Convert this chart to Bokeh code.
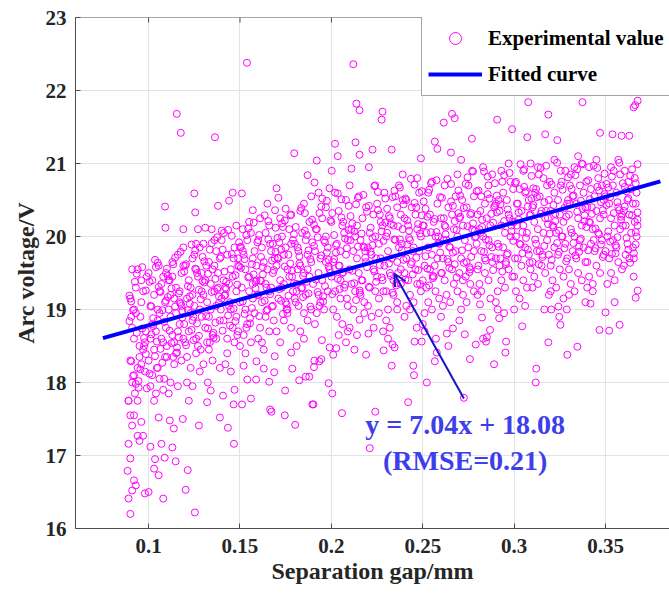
from bokeh.plotting import figure
from bokeh.models import (FixedTicker, Legend, LegendItem, Label, Span,
                          Arrow, OpenHead, Range1d, ColumnDataSource)
from bokeh.embed import file_html
from bokeh.resources import INLINE

# ---------------- data ----------------
# scattered / outlying points, strip by strip
gap_mm = [
    0.089,0.090,0.091,0.0885,0.092, 0.090,0.093,0.089,0.094,0.091, 0.095,0.090,0.097,0.092,0.089, 0.096,0.098,0.091,0.093,0.099, 0.090,0.094,0.097,0.092,0.095, 0.0905,0.0985,0.096,0.093,0.091,
    0.089,0.092,0.094,0.096,0.098, 0.091,0.093,0.095,0.097,0.099, 0.090,0.094,0.096,0.098,0.092,
    0.100,0.101,0.103,0.1035,0.1055, 0.108,0.107,0.1088,0.103,0.1055, 0.105,0.109,0.1092,0.101,0.102, 0.104,0.106,0.108,0.100,0.103, 0.105,0.107,0.109,0.102,0.104, 0.106,0.108,0.101,0.103,0.105, 0.107,0.109,0.100,0.102,0.104, 0.106,0.108,0.1095,0.101,0.105,
    0.113,0.1148,0.1138,0.1116,0.1187, 0.1154,0.1176,0.119,0.110,0.111, 0.112,0.114,0.116,0.118,0.110, 0.113,0.115,0.117,0.119,0.111, 0.112,0.114,0.116,0.118,0.115, 0.113,0.117,0.119,0.111,0.116, 0.112,0.114,0.118,0.110,0.115, 0.117,0.113,0.119,
    0.1203,0.1214,0.1253,0.1275,0.122, 0.125,0.1255,0.127,0.121,0.123, 0.124,0.126,0.128,0.120,0.122, 0.124,0.126,0.128,0.129,0.121, 0.123,0.125,0.127,0.129,0.120, 0.122,0.124,0.126,0.128,0.121, 0.123,0.125,0.127,0.129,0.124, 0.126,
    0.132,0.134,0.1324,0.139,0.1363, 0.131,0.1345,0.138,0.130,0.133, 0.135,0.137,0.139,0.131,0.133, 0.135,0.137,0.139,0.130,0.132, 0.134,0.136,0.138,0.131,0.133, 0.135,0.137,0.139,0.130,0.136, 0.132,0.138,0.134,0.136,
    0.1407,0.1434,0.1467,0.1465,0.147, 0.144,0.146,0.140,0.1412,0.142, 0.143,0.145,0.147,0.149,0.141, 0.143,0.145,0.148,0.140,0.142, 0.144,0.146,0.148,0.149,0.141, 0.143,0.145,0.147,0.149,0.140, 0.142,0.144,0.146,0.148,
    0.1511,0.156,0.154,0.1588,0.152, 0.159,0.1538,0.151,0.1515,0.157, 0.150,0.152,0.154,0.156,0.158, 0.150,0.153,0.155,0.157,0.159, 0.151,0.153,0.155,0.157,0.159, 0.150,0.152,0.154,0.156,0.158, 0.153,0.155,0.157,
    0.163,0.166,0.1665,0.1672,0.1687, 0.169,0.165,0.1692,0.160,0.161, 0.162,0.164,0.166,0.168,0.160, 0.162,0.164,0.166,0.168,0.161, 0.163,0.165,0.167,0.169,0.160, 0.162,0.164,0.166,0.168,0.161, 0.163,0.167,0.165,
    0.1747,0.1745,0.178,0.1786,0.170, 0.171,0.175,0.173,0.1797,0.170, 0.172,0.174,0.176,0.178,0.171, 0.173,0.175,0.177,0.179,0.170, 0.172,0.174,0.176,0.178,0.171, 0.173,0.175,0.177,0.179,0.172, 0.176,0.174,0.178,
    0.1802,0.1824,0.186,0.1879,0.1896, 0.187,0.185,0.181,0.183,0.185, 0.187,0.189,0.180,0.182,0.184, 0.186,0.188,0.181,0.183,0.185, 0.187,0.189,0.180,0.182,0.184, 0.186,0.188,0.183,0.185,0.189, 0.181,0.187,
    0.1902,0.1907,0.1945,0.1934,0.1905, 0.1948,0.199,0.1985,0.1908,0.192, 0.193,0.195,0.199,0.191,0.192, 0.194,0.196,0.198,0.190,0.193, 0.195,0.197,0.199,0.191,0.194, 0.196,0.198,0.192,0.195,0.197, 0.193,0.197,
    0.2005,0.201,0.2027,0.2058,0.2002, 0.202,0.2035,0.204,0.206,0.208, 0.201,0.203,0.205,0.207,0.209, 0.200,0.202,0.204,0.206,0.208, 0.201,0.203,0.205,0.207,0.209, 0.200,0.204,0.206,0.208,0.202, 0.205,0.209,
    0.212,0.2137,0.2154,0.2126,0.2154, 0.219,0.2132,0.2154,0.211,0.210, 0.212,0.214,0.216,0.218,0.211, 0.213,0.215,0.217,0.219,0.210, 0.212,0.214,0.216,0.218,0.211, 0.213,0.217,0.219,0.215,0.210, 0.218,0.214,
    0.221,0.224,0.2286,0.2283,0.2231, 0.2203,0.228,0.2225,0.2205,0.2275, 0.220,0.222,0.224,0.226,0.228, 0.221,0.223,0.225,0.227,0.229, 0.220,0.222,0.224,0.226,0.228, 0.221,0.223,0.225,0.227,0.229, 0.226,0.224,
    0.233,0.2335,0.2346,0.233,0.230, 0.231,0.232,0.234,0.236,0.238, 0.230,0.232,0.234,0.236,0.238, 0.231,0.233,0.235,0.237,0.239, 0.230,0.232,0.234,0.236,0.238, 0.235,0.237,0.239,0.231,0.236, 0.239,
    0.242,0.2452,0.2448,0.2455,0.2494, 0.2467,0.249,0.240,0.241,0.243, 0.245,0.247,0.249,0.240,0.242, 0.244,0.246,0.248,0.241,0.243, 0.245,0.247,0.249,0.240,0.242, 0.244,0.246,0.248,0.241,0.247, 0.243,
    0.2522,0.2566,0.2577,0.2572,0.2566, 0.258,0.250,0.251,0.253,0.255, 0.257,0.259,0.250,0.252,0.254, 0.256,0.258,0.251,0.253,0.255, 0.257,0.259,0.250,0.252,0.254, 0.256,0.258,0.253,0.255,0.251,
    0.2632,0.2665,0.2615,0.2660,0.2675, 0.2654,0.260,0.261,0.263,0.265, 0.267,0.269,0.260,0.262,0.264, 0.266,0.268,0.261,0.263,0.265, 0.267,0.269,0.260,0.262,0.264, 0.266,0.268,0.262,0.269,0.264,
    0.2725,0.273,0.2758,0.279,0.2769, 0.270,0.271,0.272,0.274,0.276, 0.278,0.270,0.272,0.274,0.276, 0.278,0.271,0.273,0.275,0.277, 0.279,0.270,0.272,0.274,0.276, 0.278,0.275,0.277,0.271,
    0.2813,0.2824,0.283,0.2846,0.2851, 0.2868,0.289,0.280,0.281,0.282, 0.284,0.286,0.288,0.280,0.282, 0.284,0.286,0.288,0.281,0.283, 0.285,0.287,0.289,0.280,0.282, 0.284,0.286,0.288,0.283,0.287,
    0.2918,0.2945,0.2952,0.2956,0.2907, 0.2989,0.290,0.291,0.293,0.295, 0.297,0.299,0.290,0.292,0.294, 0.296,0.298,0.291,0.293,0.295, 0.297,0.299,0.290,0.292,0.294, 0.296,0.298,0.293,0.297,0.291,
    0.3044,0.3077,0.3072,0.300,0.301, 0.303,0.305,0.307,0.309,0.300, 0.302,0.304,0.306,0.308,0.301, 0.303,0.305,0.307,0.309,0.300, 0.302,0.304,0.306,0.308,0.301, 0.303,0.305,0.309,0.306,
    0.3121,0.3118,0.3187,0.3165,0.317, 0.3187,0.310,0.311,0.313,0.315, 0.317,0.319,0.310,0.312,0.314, 0.316,0.318,0.311,0.313,0.315, 0.317,0.319,0.310,0.312,0.314, 0.316,0.318,0.313,0.319,
    0.3203,0.3242,0.3253,0.3247,0.3291, 0.3288,0.3236,0.320,0.321,0.323, 0.325,0.327,0.329,0.320,0.322, 0.324,0.326,0.328,0.321,0.323, 0.325,0.327,0.329,0.320,0.322, 0.324,0.326,0.328,0.322,0.327,
    0.3346,0.3374,0.330,0.331,0.333, 0.335,0.337,0.339,0.330,0.332, 0.334,0.336,0.338,0.331,0.333, 0.335,0.337,0.339,0.330,0.332, 0.334,0.336,0.338,0.331,0.333, 0.335,0.339,0.337,
    0.3418,0.3467,0.347,0.340,0.341, 0.343,0.345,0.347,0.349,0.340, 0.342,0.344,0.346,0.348,0.341, 0.343,0.345,0.347,0.349,0.340, 0.342,0.344,0.346,0.348,0.341, 0.345,0.349,0.343,
    0.352,0.3577,0.350,0.355,0.3538, 0.3588,0.351,0.353,0.355,0.357, 0.359,0.350,0.352,0.354,0.356, 0.358,0.351,0.353,0.355,0.357, 0.359,0.350,0.352,0.354,0.356, 0.358,0.353,0.357,
    0.3665,0.3676,0.3654,0.3654,0.3676, 0.363,0.3662,0.360,0.361,0.362, 0.363,0.364,0.365,0.366,0.367, 0.360,0.361,0.362,0.363,0.364, 0.365,0.366,0.367,0.3605,0.3625,
]

arc_voltage_V = [
    16.41,16.20,16.52,16.79,16.66, 16.96,16.59,17.16,17.27,17.41, 17.20,17.55,17.27,17.55,17.75, 17.46,16.48,18.00,17.98,17.92, 18.30,18.20,18.45,18.60,18.35, 18.90,18.70,19.10,19.30,19.55,
    17.75,18.10,17.75,18.25,18.55, 18.75,18.95,18.50,19.25,19.45, 19.15,19.55,19.40,18.15,19.00,
    16.50,17.12,16.82,16.95,16.73, 16.41,17.16,16.97,17.75,17.52, 19.64,20.41,20.12,17.95,18.10, 17.85,18.05,17.90,18.30,18.45, 18.20,18.60,18.35,18.80,18.70, 18.95,18.55,19.05,19.20,18.85, 19.35,19.10,19.50,19.40,19.58, 19.25,19.45,18.75,18.60,19.00,
    17.11,16.92,17.37,17.48,17.50, 21.68,21.42,20.10,19.56,17.85, 18.00,18.25,17.95,18.30,18.50, 18.65,18.40,18.80,18.60,19.00, 18.90,19.15,18.70,19.05,19.30, 19.45,19.25,19.60,19.40,19.75, 19.20,18.55,19.50,18.35,18.95, 19.10,19.65,19.85,
    16.53,16.80,16.22,17.41,17.75, 20.59,20.33,20.10,18.00,18.20, 17.95,18.40,18.15,18.55,18.70, 18.85,18.60,19.00,18.90,19.15, 19.30,19.05,19.45,19.25,19.60, 19.40,19.70,19.55,19.85,18.35, 18.95,19.75,18.50,19.50,19.20, 19.90,
    17.73,17.89,18.00,17.52,21.36, 20.12,20.10,20.42,18.25,18.45, 18.30,18.60,18.20,18.75,18.90, 18.65,19.05,18.85,19.20,19.10, 19.35,19.25,19.50,19.40,19.65, 19.55,19.80,19.70,19.90,19.95, 18.55,19.30,19.00,19.60,
    17.82,17.38,17.16,17.70,17.90, 20.49,20.60,20.08,20.05,18.25, 18.40,18.15,18.55,18.70,18.85, 18.60,19.00,18.90,19.15,19.30, 19.05,19.45,19.25,19.60,19.40, 19.75,19.55,19.85,19.70,19.95, 19.20,19.35,18.75,20.15,
    17.70,17.78,18.04,18.04,18.23, 18.29,22.38,20.59,20.10,20.36, 18.50,18.65,18.80,18.55,18.95, 19.10,19.00,19.25,19.15,19.40, 19.30,19.55,19.45,19.70,19.60, 19.85,19.75,19.95,20.05,19.80, 18.40,20.20,19.35,
    18.19,18.01,17.63,17.60,18.14, 18.36,20.45,20.36,18.60,18.75, 18.55,18.90,18.70,19.05,19.20, 19.10,19.35,19.25,19.50,19.40, 19.65,19.55,19.80,19.70,19.95, 19.85,20.05,20.15,19.90,20.25, 18.45,19.30,19.00,
    17.89,17.55,18.41,18.19,20.66, 20.53,20.38,20.18,21.14,18.70, 18.55,18.85,19.00,18.75,19.15, 19.30,19.10,19.45,19.25,19.60, 19.40,19.75,19.55,19.90,19.70, 20.00,19.85,20.10,19.95,20.25, 18.95,19.35,20.30,
    17.42,18.03,18.08,18.08,17.70, 20.84,20.45,18.50,18.70,18.60, 18.85,19.00,19.15,19.05,19.30, 19.20,19.45,19.35,19.60,19.50, 19.75,19.65,19.90,19.80,20.05, 19.95,20.20,20.35,18.95,20.55, 19.25,19.55,
    17.70,18.30,18.32,18.29,18.21, 18.58,18.48,17.99,20.74,21.04, 20.60,20.52,20.66,18.80,18.95, 19.10,19.00,19.25,19.35,19.50, 19.40,19.65,19.55,19.80,19.70, 19.95,19.85,20.10,20.25,20.00, 19.20,20.40,
    17.85,18.38,18.47,17.58,20.90, 21.27,21.10,18.65,18.80,18.55, 19.00,18.90,19.15,19.30,19.05, 19.45,19.25,19.60,19.50,19.75, 19.65,19.90,19.80,20.05,19.95, 20.20,20.35,20.15,20.50,20.60, 19.40,18.70,
    22.36,21.82,21.73,18.45,18.86, 18.38,21.29,21.12,20.93,18.75, 19.00,18.65,19.20,19.10,19.35, 19.25,19.50,19.40,19.65,19.55, 19.80,19.70,19.95,19.85,20.10, 20.00,20.25,20.40,20.55,20.70, 18.95,20.15,
    17.10,17.60,18.44,18.70,18.75, 18.67,21.71,21.19,20.95,21.60, 19.05,18.90,19.25,19.15,19.40, 19.30,19.55,19.45,19.70,19.60, 19.85,19.75,20.00,19.90,20.15, 20.05,20.30,20.45,20.20,20.60, 18.95,20.70,
    18.23,18.52,18.48,21.19,18.85, 19.00,18.75,19.20,19.10,19.35, 19.25,19.50,19.40,19.65,19.55, 19.80,19.70,19.95,19.85,20.10, 20.00,20.25,20.15,20.40,20.30, 20.55,20.70,20.85,18.60,19.00, 20.50,
    17.73,18.10,18.23,18.56,18.56, 18.75,21.07,18.90,19.05,19.20, 19.10,19.35,19.25,19.50,19.40, 19.65,19.55,19.80,19.70,19.95, 19.85,20.10,20.00,20.25,20.15, 20.40,20.30,20.60,20.50,20.80, 19.00,
    18.00,18.29,18.41,18.60,21.30, 21.20,18.80,18.95,19.10,19.00, 19.25,19.15,19.40,19.30,19.55, 19.45,19.70,19.60,19.85,19.75, 20.00,19.90,20.15,20.05,20.30, 20.20,20.45,20.60,20.75,18.70,
    18.67,18.74,21.56,21.68,21.62, 21.15,18.90,19.05,19.20,19.10, 19.35,19.25,19.50,19.40,19.65, 19.55,19.80,19.70,19.95,19.85, 20.10,20.00,20.25,20.15,20.40, 20.30,20.55,20.70,20.85,18.50,
    17.79,18.66,18.32,18.52,21.34, 18.85,19.00,19.20,19.10,19.35, 19.25,19.50,19.40,19.65,19.55, 19.80,19.70,19.95,19.85,20.10, 20.00,20.25,20.15,20.40,20.30, 20.55,20.70,20.90,21.05,
    19.07,18.89,18.60,18.56,18.62, 18.72,18.25,19.20,19.35,19.25, 19.50,19.40,19.65,19.55,19.80, 19.70,19.95,19.85,20.10,20.00, 20.25,20.15,20.40,20.30,20.55, 20.45,20.70,20.85,20.95,19.15,
    18.88,18.95,18.41,18.56,21.60, 21.47,19.10,19.25,19.40,19.30, 19.55,19.45,19.70,19.60,19.85, 19.75,20.00,19.90,20.15,20.05, 20.30,20.20,20.45,20.35,20.60, 20.50,20.75,20.90,21.00,19.00,
    18.77,21.84,21.36,19.00,19.25, 19.15,19.40,19.30,19.55,19.45, 19.70,19.60,19.85,19.75,20.00, 19.90,20.15,20.05,20.30,20.20, 20.45,20.35,20.60,20.50,20.75, 20.65,20.90,21.00,19.05,
    18.19,18.00,18.55,19.00,21.40, 21.67,19.30,19.45,19.35,19.60, 19.50,19.75,19.65,19.90,19.80, 20.05,19.95,20.20,20.10,20.35, 20.25,20.50,20.40,20.65,20.55, 20.80,20.70,20.95,19.20,
    19.00,19.04,18.79,18.90,18.38, 19.00,21.32,19.25,19.40,19.30, 19.55,19.45,19.70,19.60,19.85, 19.75,20.00,19.90,20.15,20.05, 20.30,20.20,20.45,20.35,20.60, 20.50,20.75,20.90,21.05,19.15,
    18.49,21.84,19.20,19.35,19.25, 19.50,19.40,19.65,19.55,19.80, 19.70,19.95,19.85,20.10,20.00, 20.25,20.15,20.40,20.30,20.55, 20.45,20.70,20.60,20.85,20.95, 21.10,19.10,21.00,
    19.08,18.72,21.42,19.30,19.45, 19.35,19.60,19.50,19.75,19.65, 19.90,19.80,20.05,19.95,20.20, 20.10,20.35,20.25,20.50,20.40, 20.65,20.55,20.80,20.70,20.95, 21.05,20.30,19.25,
    18.71,18.79,18.96,19.10,21.40, 21.38,19.35,19.50,19.40,19.65, 19.55,19.80,19.70,19.95,19.85, 20.10,20.00,20.25,20.15,20.40, 20.30,20.55,20.45,20.70,20.60, 20.85,20.95,21.05,
    19.16,19.26,19.45,21.77,21.86, 21.38,21.80,19.60,19.75,19.90, 19.70,20.05,19.85,20.20,20.00, 20.35,20.15,20.50,20.30,20.65, 20.45,20.80,20.60,20.90,20.75,
]

# dense core of the cloud, strip by strip (20 points per strip)
gap_mm_core = [
    0.0925,0.0965,0.0905,0.0985,0.0945, 0.0915,0.0975,0.0935,0.0955,0.0895, 0.0945,0.0905,0.0975,0.0925,0.0985, 0.0955,0.0915,0.0965,0.0935,0.0895,
    0.1085,0.1025,0.1065,0.1005,0.1045, 0.1095,0.1015,0.1055,0.1035,0.1075, 0.1005,0.1065,0.1025,0.1095,0.1045, 0.1015,0.1075,0.1035,0.1085,0.1055,
    0.1135,0.1175,0.1115,0.1195,0.1155, 0.1125,0.1185,0.1145,0.1165,0.1105, 0.1155,0.1115,0.1185,0.1135,0.1195, 0.1165,0.1125,0.1175,0.1145,0.1105,
    0.1285,0.1225,0.1265,0.1205,0.1245, 0.1295,0.1215,0.1255,0.1235,0.1275, 0.1205,0.1265,0.1225,0.1295,0.1245, 0.1215,0.1275,0.1235,0.1285,0.1255,
    0.1335,0.1375,0.1315,0.1395,0.1355, 0.1325,0.1385,0.1345,0.1365,0.1305, 0.1355,0.1315,0.1385,0.1335,0.1395, 0.1365,0.1325,0.1375,0.1345,0.1305,
    0.1485,0.1425,0.1465,0.1405,0.1445, 0.1495,0.1415,0.1455,0.1435,0.1475, 0.1405,0.1465,0.1425,0.1495,0.1445, 0.1415,0.1475,0.1435,0.1485,0.1455,
    0.1535,0.1575,0.1515,0.1595,0.1555, 0.1525,0.1585,0.1545,0.1565,0.1505, 0.1555,0.1515,0.1585,0.1535,0.1595, 0.1565,0.1525,0.1575,0.1545,0.1505,
    0.1685,0.1625,0.1665,0.1605,0.1645, 0.1695,0.1615,0.1655,0.1635,0.1675, 0.1605,0.1665,0.1625,0.1695,0.1645, 0.1615,0.1675,0.1635,0.1685,0.1655,
    0.1735,0.1775,0.1715,0.1795,0.1755, 0.1725,0.1785,0.1745,0.1765,0.1705, 0.1755,0.1715,0.1785,0.1735,0.1795, 0.1765,0.1725,0.1775,0.1745,0.1705,
    0.1885,0.1825,0.1865,0.1805,0.1845, 0.1895,0.1815,0.1855,0.1835,0.1875, 0.1805,0.1865,0.1825,0.1895,0.1845, 0.1815,0.1875,0.1835,0.1885,0.1855,
    0.1935,0.1975,0.1915,0.1995,0.1955, 0.1925,0.1985,0.1945,0.1965,0.1905, 0.1955,0.1915,0.1985,0.1935,0.1995, 0.1965,0.1925,0.1975,0.1945,0.1905,
    0.2085,0.2025,0.2065,0.2005,0.2045, 0.2095,0.2015,0.2055,0.2035,0.2075, 0.2005,0.2065,0.2025,0.2095,0.2045, 0.2015,0.2075,0.2035,0.2085,0.2055,
    0.2135,0.2175,0.2115,0.2195,0.2155, 0.2125,0.2185,0.2145,0.2165,0.2105, 0.2155,0.2115,0.2185,0.2135,0.2195, 0.2165,0.2125,0.2175,0.2145,0.2105,
    0.2285,0.2225,0.2265,0.2205,0.2245, 0.2295,0.2215,0.2255,0.2235,0.2275, 0.2205,0.2265,0.2225,0.2295,0.2245, 0.2215,0.2275,0.2235,0.2285,0.2255,
    0.2335,0.2375,0.2315,0.2395,0.2355, 0.2325,0.2385,0.2345,0.2365,0.2305, 0.2355,0.2315,0.2385,0.2335,0.2395, 0.2365,0.2325,0.2375,0.2345,0.2305,
    0.2485,0.2425,0.2465,0.2405,0.2445, 0.2495,0.2415,0.2455,0.2435,0.2475, 0.2405,0.2465,0.2425,0.2495,0.2445, 0.2415,0.2475,0.2435,0.2485,0.2455,
    0.2535,0.2575,0.2515,0.2595,0.2555, 0.2525,0.2585,0.2545,0.2565,0.2505, 0.2555,0.2515,0.2585,0.2535,0.2595, 0.2565,0.2525,0.2575,0.2545,0.2505,
    0.2685,0.2625,0.2665,0.2605,0.2645, 0.2695,0.2615,0.2655,0.2635,0.2675, 0.2605,0.2665,0.2625,0.2695,0.2645, 0.2615,0.2675,0.2635,0.2685,0.2655,
    0.2735,0.2775,0.2715,0.2795,0.2755, 0.2725,0.2785,0.2745,0.2765,0.2705, 0.2755,0.2715,0.2785,0.2735,0.2795, 0.2765,0.2725,0.2775,0.2745,0.2705,
    0.2885,0.2825,0.2865,0.2805,0.2845, 0.2895,0.2815,0.2855,0.2835,0.2875, 0.2805,0.2865,0.2825,0.2895,0.2845, 0.2815,0.2875,0.2835,0.2885,0.2855,
    0.2935,0.2975,0.2915,0.2995,0.2955, 0.2925,0.2985,0.2945,0.2965,0.2905, 0.2955,0.2915,0.2985,0.2935,0.2995, 0.2965,0.2925,0.2975,0.2945,0.2905,
    0.3085,0.3025,0.3065,0.3005,0.3045, 0.3095,0.3015,0.3055,0.3035,0.3075, 0.3005,0.3065,0.3025,0.3095,0.3045, 0.3015,0.3075,0.3035,0.3085,0.3055,
    0.3135,0.3175,0.3115,0.3195,0.3155, 0.3125,0.3185,0.3145,0.3165,0.3105, 0.3155,0.3115,0.3185,0.3135,0.3195, 0.3165,0.3125,0.3175,0.3145,0.3105,
    0.3285,0.3225,0.3265,0.3205,0.3245, 0.3295,0.3215,0.3255,0.3235,0.3275, 0.3205,0.3265,0.3225,0.3295,0.3245, 0.3215,0.3275,0.3235,0.3285,0.3255,
    0.3335,0.3375,0.3315,0.3395,0.3355, 0.3325,0.3385,0.3345,0.3365,0.3305, 0.3355,0.3315,0.3385,0.3335,0.3395, 0.3365,0.3325,0.3375,0.3345,0.3305,
    0.3485,0.3425,0.3465,0.3405,0.3445, 0.3495,0.3415,0.3455,0.3435,0.3475, 0.3405,0.3465,0.3425,0.3495,0.3445, 0.3415,0.3475,0.3435,0.3485,0.3455,
    0.3535,0.3575,0.3515,0.3595,0.3555, 0.3525,0.3585,0.3545,0.3565,0.3505, 0.3555,0.3515,0.3585,0.3535,0.3595, 0.3565,0.3525,0.3575,0.3545,0.3505,
    0.3635,0.3675,0.3615,0.3665,0.3655, 0.3625,0.3675,0.3645,0.3665,0.3605, 0.3655,0.3615,0.3675,0.3635,0.3665, 0.3665,0.3625,0.3675,0.3645,0.3605,
]

arc_voltage_V_core = [
    17.85,18.74,18.29,19.26,18.02, 18.99,18.50,19.49,18.18,18.84, 17.93,19.11,18.61,19.38,18.39, 18.90,18.09,19.58,18.68,19.19,
    18.05,18.88,18.46,19.38,18.20, 19.12,18.66,19.60,18.36,18.99, 18.12,19.24,18.77,19.50,18.56, 19.04,18.27,19.68,18.83,19.31,
    18.35,19.08,18.71,19.52,18.48, 19.29,18.89,19.71,18.62,19.17, 18.41,19.40,18.98,19.62,18.80, 19.22,18.54,19.79,19.04,19.46,
    18.45,19.18,18.81,19.62,18.58, 19.39,18.99,19.81,18.72,19.27, 18.51,19.50,19.08,19.72,18.90, 19.32,18.64,19.89,19.14,19.56,
    18.55,19.28,18.91,19.72,18.68, 19.49,19.09,19.91,18.82,19.37, 18.61,19.60,19.18,19.82,19.00, 19.42,18.74,19.99,19.24,19.66,
    18.65,19.38,19.01,19.82,18.78, 19.59,19.19,20.01,18.92,19.47, 18.71,19.70,19.28,19.92,19.10, 19.52,18.84,20.09,19.34,19.76,
    18.75,19.48,19.11,19.92,18.88, 19.69,19.29,20.11,19.02,19.57, 18.81,19.80,19.38,20.02,19.20, 19.62,18.94,20.19,19.44,19.86,
    18.85,19.58,19.21,20.02,18.98, 19.79,19.39,20.21,19.12,19.67, 18.91,19.90,19.48,20.12,19.30, 19.72,19.04,20.29,19.54,19.96,
    18.94,19.63,19.28,20.03,19.07, 19.82,19.45,20.22,19.19,19.71, 19.00,19.92,19.53,20.13,19.36, 19.75,19.12,20.29,19.59,19.98,
    19.04,19.73,19.38,20.13,19.17, 19.92,19.55,20.32,19.29,19.81, 19.10,20.02,19.63,20.23,19.46, 19.85,19.22,20.39,19.69,20.08,
    19.05,19.78,19.41,20.22,19.18, 19.99,19.59,20.41,19.32,19.87, 19.11,20.10,19.68,20.32,19.50, 19.92,19.24,20.49,19.74,20.16,
    19.15,19.88,19.51,20.32,19.28, 20.09,19.69,20.51,19.42,19.97, 19.21,20.20,19.78,20.42,19.60, 20.02,19.34,20.59,19.84,20.26,
    19.13,19.86,19.53,20.34,19.26, 20.07,19.71,20.53,19.40,19.95, 19.23,20.18,19.80,20.44,19.58, 20.04,19.36,20.57,19.86,20.28,
    19.25,19.98,19.61,20.42,19.38, 20.19,19.79,20.61,19.52,20.07, 19.31,20.30,19.88,20.52,19.70, 20.12,19.44,20.69,19.94,20.36,
    19.23,19.96,19.63,20.44,19.36, 20.17,19.81,20.63,19.50,20.05, 19.33,20.28,19.90,20.54,19.68, 20.14,19.46,20.67,19.96,20.38,
    19.35,20.08,19.71,20.52,19.48, 20.29,19.89,20.71,19.62,20.17, 19.41,20.40,19.98,20.62,19.80, 20.22,19.54,20.79,20.04,20.46,
    19.33,20.06,19.73,20.54,19.46, 20.27,19.91,20.73,19.60,20.15, 19.43,20.38,20.00,20.64,19.78, 20.24,19.56,20.77,20.06,20.48,
    19.44,20.13,19.78,20.53,19.57, 20.32,19.95,20.72,19.69,20.21, 19.50,20.42,20.03,20.63,19.86, 20.25,19.62,20.79,20.09,20.48,
    19.45,20.18,19.81,20.62,19.58, 20.39,19.99,20.81,19.72,20.27, 19.51,20.50,20.08,20.72,19.90, 20.32,19.64,20.89,20.14,20.56,
    19.54,20.23,19.88,20.63,19.67, 20.42,20.05,20.82,19.79,20.31, 19.60,20.52,20.13,20.73,19.96, 20.35,19.72,20.89,20.19,20.58,
    19.52,20.25,19.86,20.65,19.65, 20.44,20.07,20.84,19.77,20.33, 19.62,20.50,20.15,20.75,19.94, 20.37,19.70,20.87,20.21,20.56,
    19.64,20.33,19.98,20.73,19.77, 20.52,20.15,20.92,19.89,20.41, 19.70,20.62,20.23,20.83,20.06, 20.45,19.82,20.99,20.29,20.68,
    19.62,20.35,19.96,20.75,19.75, 20.54,20.17,20.94,19.87,20.43, 19.72,20.60,20.25,20.85,20.04, 20.47,19.80,20.97,20.31,20.66,
    19.66,20.31,20.00,20.71,19.79, 20.50,20.13,20.90,19.91,20.39, 19.68,20.64,20.21,20.81,20.08, 20.43,19.84,21.01,20.27,20.70,
    19.74,20.38,20.05,20.75,19.86, 20.56,20.21,20.92,19.97,20.45, 19.79,20.65,20.29,20.84,20.13, 20.49,19.91,20.99,20.34,20.70,
    19.72,20.40,20.03,20.77,19.84, 20.58,20.19,20.94,19.95,20.47, 19.81,20.63,20.31,20.86,20.11, 20.51,19.89,20.97,20.36,20.68,
    19.76,20.36,20.07,20.73,19.88, 20.54,20.23,20.90,19.99,20.43, 19.77,20.67,20.27,20.82,20.15, 20.47,19.93,21.01,20.32,20.72,
    19.64,20.33,19.98,20.73,19.77, 20.52,20.15,20.92,19.89,20.41, 19.70,20.62,20.23,20.83,20.06, 20.45,19.82,20.99,20.29,20.68,
]

fit_slope = 7.04
fit_intercept = 18.08
fit_gap = [0.075, 0.38]

x_ticks = [0.1, 0.15, 0.2, 0.25, 0.3, 0.35]
y_ticks = [16, 17, 18, 19, 20, 21, 22, 23]

n1 = min(len(gap_mm), len(arc_voltage_V))
n2 = min(len(gap_mm_core), len(arc_voltage_V_core))
all_x = gap_mm[:n1] + gap_mm_core[:n2]
all_y = arc_voltage_V[:n1] + arc_voltage_V_core[:n2]
scatter_src = ColumnDataSource(dict(x=all_x, y=all_y))
fit_src = ColumnDataSource(dict(x=fit_gap, y=[fit_slope * g + fit_intercept for g in fit_gap]))

FONT = "Liberation Serif"
AX_COLOR = "#4D4D4D"

Y0, Y1 = 16, 23
FRAME_H = 511

p = figure(width=669, height=594,
           x_range=Range1d(0.06, 0.385), y_range=Range1d(Y0, Y1),
           output_backend="svg", toolbar_location=None,
           min_border_left=75, min_border_right=0,
           min_border_top=17, min_border_bottom=66)
p.outline_line_color = None
p.background_fill_color = "white"
p.border_fill_color = "white"

p.xgrid.ticker = FixedTicker(ticks=x_ticks)
p.ygrid.ticker = FixedTicker(ticks=y_ticks)
p.grid.grid_line_color = "#E3E3E3"
p.grid.grid_line_width = 1

sc = p.scatter("x", "y", source=scatter_src, size=7, marker="circle",
               fill_color=None, line_color="#FF00FF", line_width=1)
ln = p.line("x", "y", source=fit_src, line_color="#0000FF", line_width=4)

# axes
for ax in [p.xaxis[0], p.yaxis[0]]:
    ax.axis_line_color = AX_COLOR
    ax.major_tick_line_color = AX_COLOR
    ax.major_tick_in = 5
    ax.major_tick_out = 0
    ax.minor_tick_line_color = None
    ax.major_label_text_font = FONT
    ax.major_label_text_font_style = "bold"
    ax.major_label_text_font_size = "21px"
    ax.major_label_text_color = "#262626"
    ax.axis_label_text_font = FONT
    ax.axis_label_text_font_style = "bold"
    ax.axis_label_text_font_size = "24px"
    ax.axis_label_text_color = "#262626"

p.xaxis.ticker = FixedTicker(ticks=x_ticks)
p.yaxis.ticker = FixedTicker(ticks=y_ticks)
p.xaxis.major_label_overrides = {0.1: "0.1", 0.15: "0.15", 0.2: "0.2", 0.25: "0.25", 0.3: "0.3", 0.35: "0.35"}
p.xaxis.axis_label = "Separation gap/mm"
p.yaxis.axis_label = "Arc voltage/V"
p.xaxis.major_label_standoff = 10
p.yaxis.major_label_standoff = 9
p.xaxis.axis_label_standoff = 2
p.yaxis.axis_label_standoff = 4

# top box edge with inward ticks
p.add_layout(Span(location=Y1, dimension="width", line_color=AX_COLOR, line_width=1))
tick_len = 5 * (Y1 - Y0) / FRAME_H
p.segment(x0=x_ticks, y0=[Y1] * len(x_ticks), x1=x_ticks, y1=[Y1 - tick_len] * len(x_ticks),
          line_color=AX_COLOR, line_width=1)

# annotation
arrow = Arrow(x_start=0.2725, y_start=17.78, x_end=0.2345, y_end=19.49,
              line_color="#1414C8", line_width=2,
              end=OpenHead(size=12, line_color="#1414C8", line_width=2))
p.add_layout(arrow)

lab1 = Label(x=0.2732, y=17.43, text="y = 7.04x + 18.08", text_align="center",
             text_baseline="middle", text_font=FONT, text_font_style="bold",
             text_font_size="28px", text_color="#3E3EEB")
lab2 = Label(x=0.2732, y=16.93, text="(RMSE=0.21)", text_align="center",
             text_baseline="middle", text_font=FONT, text_font_style="bold",
             text_font_size="28px", text_color="#3E3EEB")
p.add_layout(lab1)
p.add_layout(lab2)

legend = Legend(items=[LegendItem(label="Experimental value", renderers=[sc]),
                       LegendItem(label="Fitted curve", renderers=[ln])],
                location=(346, 432), orientation="vertical",
                label_text_font=FONT, label_text_font_style="bold",
                label_text_font_size="21px", label_text_color="#000000",
                glyph_width=54, glyph_height=30, label_height=30, spacing=6, padding=6,
                margin=0, label_standoff=6,
                border_line_color=AX_COLOR, border_line_width=1,
                background_fill_color="white", background_fill_alpha=1.0)
p.add_layout(legend)

open("out.html", "w").write(file_html(p, INLINE))
